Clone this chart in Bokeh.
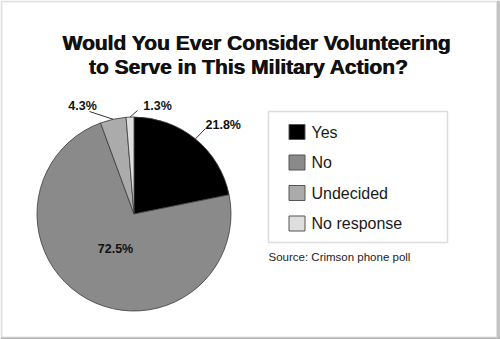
import math
from bokeh.plotting import figure
from bokeh.models import BoxAnnotation
from bokeh.core.properties import value
from bokeh.embed import file_html
from bokeh.resources import INLINE

# ---- data ----
categories = ["Yes", "No", "Undecided", "No response"]
percents = [21.8, 72.5, 4.3, 1.3]
pct_labels = ["21.8%", "72.5%", "4.3%", "1.3%"]
title_lines = ["Would You Ever Consider Volunteering", "to Serve in This Military Action?"]
source_text = "Source: Crimson phone poll"

# ---- style / layout ----
colors = ["#000000", "#8a8a8a", "#ababab", "#dedede"]
W, H = 500, 339
CX, CY, R = 133.5, 213.5, 97.0   # pie centre/radius in pixel coords


def Y(py):
    return H - py


p = figure(width=W, height=H, x_range=(0, W), y_range=(0, H),
           output_backend="svg", toolbar_location=None, min_border=0)
p.axis.visible = False
p.grid.visible = False
p.outline_line_color = None
p.background_fill_color = "white"
p.border_fill_color = "white"

# frame
p.add_layout(BoxAnnotation(left=1, right=496.5, bottom=Y(337), top=Y(1),
                           fill_alpha=0, line_color="#9c9c9c", line_width=2,
                           level="underlay"))
p.add_layout(BoxAnnotation(left=496.5, right=500, bottom=0, top=H,
                           fill_color="#c4c4c4", fill_alpha=1, line_alpha=0,
                           level="underlay"))
p.add_layout(BoxAnnotation(left=0, right=500, bottom=0, top=Y(337),
                           fill_color="#b4b4b4", fill_alpha=1, line_alpha=0,
                           level="underlay"))

# title (drawn twice with a sub-pixel offset for a heavier weight)
title_pos = [(256, 42), (248, 66)]
for line, (tx, ty) in zip(title_lines, title_pos):
    for dx in (0.0, 0.7):
        p.text(x=[tx + dx], y=[Y(ty)], text=[line], text_align="center",
               text_baseline="alphabetic", text_font=value("Liberation Sans"),
               text_font_style="bold", text_font_size="21px",
               text_color="#111111")

# pie
total = sum(percents)
starts, ends, mids = [], [], []
a = math.pi / 2
for v in percents:
    sweep = 2 * math.pi * v / total
    starts.append(a)
    ends.append(a - sweep)
    mids.append(a - sweep / 2)
    a -= sweep

p.wedge(x=CX, y=Y(CY), radius=R, start_angle=starts, end_angle=ends,
        direction="clock", fill_color=colors, line_color="#3a3a3a",
        line_width=0.8)

# percentage labels: (leader end px, label pos px, align)
label_layout = [
    ((205, 128), (205, 124), "left"),
    (None, (115, 248), "center"),
    ((89, 111), (82, 105), "center"),
    ((137, 110), (157, 105), "center"),
]
for i, (lbl, mid) in enumerate(zip(pct_labels, mids)):
    lead, (lx, ly), align = label_layout[i]
    if lead is not None:
        ex = CX + R * math.cos(mid)
        ey = Y(CY) + R * math.sin(mid)
        p.segment(x0=[ex], y0=[ey], x1=[lead[0]], y1=[Y(lead[1])],
                  line_color="#333333", line_width=1)
    p.text(x=[lx], y=[Y(ly)], text=[lbl], text_align=align,
           text_baseline="middle", text_font=value("Liberation Sans"),
           text_font_style="bold", text_font_size="12.5px", text_color="#111111")

# legend
p.add_layout(BoxAnnotation(left=268, right=447, bottom=Y(242), top=Y(111),
                           fill_color="white", fill_alpha=1,
                           line_color="#8a8a8a", line_width=1.5,
                           level="underlay"))
leg_y = [Y(131.5 + 30.5 * i) for i in range(len(categories))]
p.rect(x=[296.5] * len(categories), y=leg_y, width=16, height=15,
       fill_color=colors, line_color="#555555", line_width=1)
p.text(x=[311] * len(categories), y=leg_y, text=categories,
       text_align="left", text_baseline="middle",
       text_font=value("Liberation Sans"), text_font_size="16px",
       text_color="#1a1a1a")

# source
p.text(x=[268], y=[Y(256)], text=[source_text], text_align="left",
       text_baseline="middle", text_font=value("Liberation Sans"),
       text_font_size="11.5px", text_color="#222222")

open("out.html", "w").write(file_html(p, INLINE))
